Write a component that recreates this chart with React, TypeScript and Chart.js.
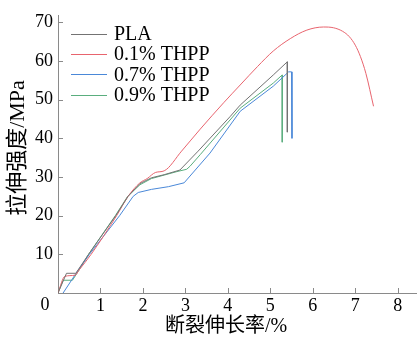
import React, { useEffect, useRef } from "react";
import { Chart, registerables } from "chart.js";

Chart.register(...registerables);

const seriesNames = ["PLA", "0.1% THPP", "0.7% THPP", "0.9% THPP"];
const seriesColors = ["#737373", "#e8646e", "#4a88d8", "#5aae7e"];

const plaStrain = [0, 0.2, 0.42, 0.72, 1.36, 1.65, 1.93, 2.2, 2.5, 2.87, 3.3, 4.05, 4.29, 5.07, 5.4, 5.4];
const plaStress = [0, 5.1, 5.1, 10, 20, 25, 28.3, 29.8, 30.6, 31.8, 36.7, 45.6, 48.6, 56.4, 59.8, 41.6];

const t01Strain = [0, 0.16, 0.4, 0.5, 0.78, 1.38, 1.65, 1.93, 2.1, 2.3, 2.5, 2.91, 3.35, 3.9, 4.29, 4.7, 5.07, 5.47, 5.86, 6.25, 6.49, 6.7, 6.86, 7.0, 7.12, 7.25, 7.43];
const t01Stress = [0, 4.3, 4.6, 6, 10, 20, 25, 28.5, 29.6, 31.2, 31.6, 36.7, 42.4, 49.2, 53.8, 58.6, 62.6, 65.8, 68.0, 68.8, 68.6, 67.7, 66.3, 64.1, 61.2, 56.8, 48.3];

const t07Strain = [0.12, 0.45, 0.74, 1.45, 1.77, 1.89, 2.2, 2.6, 2.97, 3.58, 4.29, 5.07, 5.43, 5.5, 5.51];
const t07Stress = [0, 5.5, 10, 20, 25, 26, 26.8, 27.5, 28.5, 36.2, 47.0, 53.5, 57.2, 57.2, 40];

const t09Strain = [0, 0.12, 0.34, 0.5, 0.72, 1.35, 1.64, 1.93, 2.2, 2.5, 2.8, 3.03, 3.11, 3.35, 4.29, 5.07, 5.28, 5.28];
const t09Stress = [0, 3.3, 3.3, 6, 10, 20, 25, 28, 29.6, 30.5, 31.4, 32, 32.8, 35.8, 47.8, 54.3, 56.4, 39];

const xTickLabels = ["0", "1", "2", "3", "4", "5", "6", "7", "8"];
const yTickLabels = ["0", "10", "20", "30", "40", "50", "60", "70"];

const xTitle = "断裂伸长率/%";
const yTitle = "拉伸强度/MPa";

const SERIF = '"Liberation Serif", "Noto Sans CJK SC", serif';
const AXIS_COLOR = "#8a8a8a";

function pairs(xs: number[], ys: number[]) {
  return xs.map((x, i) => ({ x, y: ys[i] }));
}

const decorPlugin = {
  id: "decor",
  afterDraw(chart: any) {
    const ctx = chart.ctx;
    const area = chart.chartArea;
    const xs = chart.scales.x;
    const ys = chart.scales.y;
    ctx.save();
    ctx.strokeStyle = AXIS_COLOR;
    ctx.lineWidth = 1;
    ctx.beginPath();
    ys.ticks.forEach((t: any) => {
      if (t.value === 0) return;
      const py = Math.round(ys.getPixelForValue(t.value)) + 0.5;
      ctx.moveTo(area.left, py);
      ctx.lineTo(area.left + 5, py);
    });
    xs.ticks.forEach((t: any) => {
      if (t.value === 0) return;
      const px = Math.round(xs.getPixelForValue(t.value)) + 0.5;
      ctx.moveTo(px, area.bottom);
      ctx.lineTo(px, area.bottom - 5);
    });
    ctx.stroke();

    ctx.fillStyle = "#000";
    ctx.font = "18px " + SERIF;
    ctx.textAlign = "center";
    ctx.textBaseline = "middle";
    ctx.fillText(xTickLabels[0], area.left - 13, area.bottom + 12);

    ctx.font = "20px " + SERIF;
    ctx.fillText(xTitle, 226, 327);
    ctx.save();
    ctx.translate(18, 148);
    ctx.rotate(-Math.PI / 2);
    ctx.font = "22px " + SERIF;
    ctx.fillText(yTitle, 0, 0);
    ctx.restore();

    const lx = area.left + 13;
    const ty = area.top + 18;
    ctx.font = "20px " + SERIF;
    ctx.textAlign = "left";
    seriesNames.forEach((name, i) => {
      const y = ty + i * 20.3;
      ctx.strokeStyle = seriesColors[i];
      ctx.lineWidth = 1;
      ctx.beginPath();
      ctx.moveTo(lx, Math.round(y) + 0.5);
      ctx.lineTo(lx + 36, Math.round(y) + 0.5);
      ctx.stroke();
      ctx.fillStyle = "#000";
      ctx.fillText(name, lx + 43, y + 1);
    });
    ctx.restore();
  },
};

export default function App() {
  const ref = useRef<HTMLCanvasElement>(null);
  useEffect(() => {
    if (!ref.current) return;
    const ds = [
      [plaStrain, plaStress],
      [t01Strain, t01Stress],
      [t07Strain, t07Stress],
      [t09Strain, t09Stress],
    ].map(([xs, ys], i) => ({
      label: seriesNames[i],
      data: pairs(xs, ys),
      borderColor: seriesColors[i],
      backgroundColor: seriesColors[i],
      borderWidth: 1,
      pointRadius: 0,
      tension: 0,
      cubicInterpolationMode: i === 1 ? "monotone" : "default",
      fill: false,
      showLine: true,
    }));
    const chart = new Chart(ref.current, {
      type: "scatter",
      data: { datasets: ds as any },
      options: {
        animation: false,
        responsive: false,
        layout: { padding: { top: 14, right: 1, left: 0, bottom: 0 } },
        plugins: { legend: { display: false }, tooltip: { enabled: false } },
        scales: {
          x: {
            type: "linear",
            min: 0,
            max: 8.43,
            afterFit: (s: any) => {
              s.height = 45;
            },
            grid: { display: false, drawTicks: false },
            border: { display: true, color: AXIS_COLOR, width: 1 },
            ticks: {
              stepSize: 1,
              includeBounds: false,
              padding: 2,
              color: "#000",
              font: { family: SERIF, size: 18 },
              callback: (v: any) => (v === 0 ? "" : xTickLabels[v] ?? String(v)),
            },
          },
          y: {
            type: "linear",
            min: 0,
            max: 71.7,
            afterFit: (s: any) => {
              s.width = 58;
            },
            grid: { display: false, drawTicks: false },
            border: { display: true, color: AXIS_COLOR, width: 1 },
            ticks: {
              stepSize: 10,
              includeBounds: false,
              padding: 5,
              color: "#000",
              font: { family: SERIF, size: 18 },
              callback: (v: any) => (v === 0 ? "" : yTickLabels[v / 10] ?? String(v)),
            },
          },
        },
      },
      plugins: [decorPlugin],
    });
    return () => chart.destroy();
  }, []);
  return (
    <div style={{ position: "absolute", left: 0, top: 0, width: 417, height: 338 }}>
      <canvas ref={ref} width={417} height={338} style={{ display: "block" }} />
    </div>
  );
}
